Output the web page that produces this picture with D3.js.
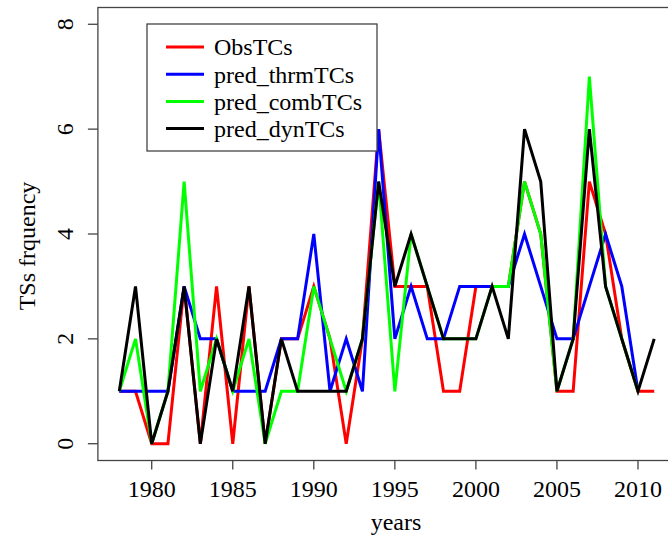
<!DOCTYPE html>
<html>
<head>
<meta charset="utf-8">
<script src="https://cdn.jsdelivr.net/npm/d3@7"></script>
<style>
  body { margin: 0; background: #fff; }
</style>
</head>
<body>
<div id="chart"></div>
<script>
//data
const years = d3.range(1978, 2012);
const obsTCs      = [1,1,0,0,3,0,3,0,3,0,2,2,3,2,0,2,6,3,3,3,1,1,3,3,3,5,4,1,1,5,4,2,1,1];
const thrmTCs     = [1,1,1,1,3,2,2,1,1,1,2,2,4,1,2,1,6,2,3,2,2,3,3,3,3,4,3,2,2,3,4,3,1];
const combTCs     = [1,2,0,1,5,1,2,1,2,0,1,1,3,2,1,2,5,1,4,3,2,2,2,3,3,5,4,1,2,7,3,2,1];
const dynTCs      = [1,3,0,1,3,0,2,1,3,0,2,1,1,1,1,2,5,3,4,3,2,2,2,3,2,6,5,1,2,6,3,2,1,2];

const seriesNames = ["ObsTCs", "pred_thrmTCs", "pred_combTCs", "pred_dynTCs"];
const seriesColors = ["#ff0000", "#0000ff", "#00ff00", "#000000"];
const seriesValues = [obsTCs, thrmTCs, combTCs, dynTCs];

const xTicks = [1980, 1985, 1990, 1995, 2000, 2005, 2010];
const yTicks = [0, 2, 4, 6, 8];

const width = 668, height = 540;
const fontSize = 24;
const serif = '"Liberation Serif", "Times New Roman", Times, "DejaVu Serif", serif';

const svg = d3.select("#chart").append("svg")
  .attr("width", width)
  .attr("height", height);

//scales (R style, 4% padding on both ends)
const x = d3.scaleLinear().domain([1976.68, 2012.32]).range([97.9, 675.6]);
const y = d3.scaleLinear().domain([-0.32, 8.32]).range([460.5, 7.5]);

//plot box
svg.append("rect")
  .attr("x", x(1976.68))
  .attr("y", y(8.32))
  .attr("width", x(2012.32) - x(1976.68))
  .attr("height", y(-0.32) - y(8.32))
  .attr("fill", "none")
  .attr("stroke", "#444")
  .attr("stroke-width", 1.3);

//x axis ticks
svg.selectAll(".xtick").data(xTicks).enter().append("line")
  .attr("x1", d => x(d)).attr("x2", d => x(d))
  .attr("y1", y(-0.32)).attr("y2", y(-0.32) + 9)
  .attr("stroke", "#444").attr("stroke-width", 1.3);

svg.selectAll(".xlab").data(xTicks).enter().append("text")
  .attr("x", d => x(d))
  .attr("y", 497)
  .attr("text-anchor", "middle")
  .attr("font-family", serif)
  .attr("font-size", fontSize)
  .text(d => d);

//y axis ticks
svg.selectAll(".ytick").data(yTicks).enter().append("line")
  .attr("x1", x(1976.68) - 10).attr("x2", x(1976.68))
  .attr("y1", d => y(d)).attr("y2", d => y(d))
  .attr("stroke", "#444").attr("stroke-width", 1.3);

svg.selectAll(".ylab").data(yTicks).enter().append("text")
  .attr("transform", d => `translate(65,${y(d)}) rotate(-90)`)
  .attr("dy", "0.35em")
  .attr("text-anchor", "middle")
  .attr("font-family", serif)
  .attr("font-size", fontSize)
  .text(d => d);

//axis titles
svg.append("text")
  .attr("x", 396)
  .attr("y", 530)
  .attr("text-anchor", "middle")
  .attr("font-family", serif)
  .attr("font-size", fontSize)
  .text("years");

svg.append("text")
  .attr("transform", "translate(27,246) rotate(-90)")
  .attr("dy", "0.35em")
  .attr("text-anchor", "middle")
  .attr("font-family", serif)
  .attr("font-size", fontSize)
  .text("TSs frquency");

//lines
const line = d3.line()
  .x((d, i) => x(years[i]))
  .y(d => y(d));

seriesValues.forEach((vals, k) => {
  svg.append("path")
    .attr("d", line(vals))
    .attr("fill", "none")
    .attr("stroke", seriesColors[k])
    .attr("stroke-width", 3)
    .attr("stroke-linejoin", "miter");
});

//legend
const legend = svg.append("g");
legend.append("rect")
  .attr("x", 147).attr("y", 24)
  .attr("width", 230).attr("height", 127)
  .attr("fill", "#fff")
  .attr("stroke", "#444")
  .attr("stroke-width", 1.3);

seriesNames.forEach((name, k) => {
  let cy = 47 + k * 27.2;
  legend.append("line")
    .attr("x1", 166).attr("x2", 204)
    .attr("y1", cy).attr("y2", cy)
    .attr("stroke", seriesColors[k])
    .attr("stroke-width", 3);
  legend.append("text")
    .attr("x", 214)
    .attr("y", cy)
    .attr("dy", "0.35em")
    .attr("font-family", serif)
    .attr("font-size", fontSize)
    .text(name);
});
</script>
</body>
</html>
